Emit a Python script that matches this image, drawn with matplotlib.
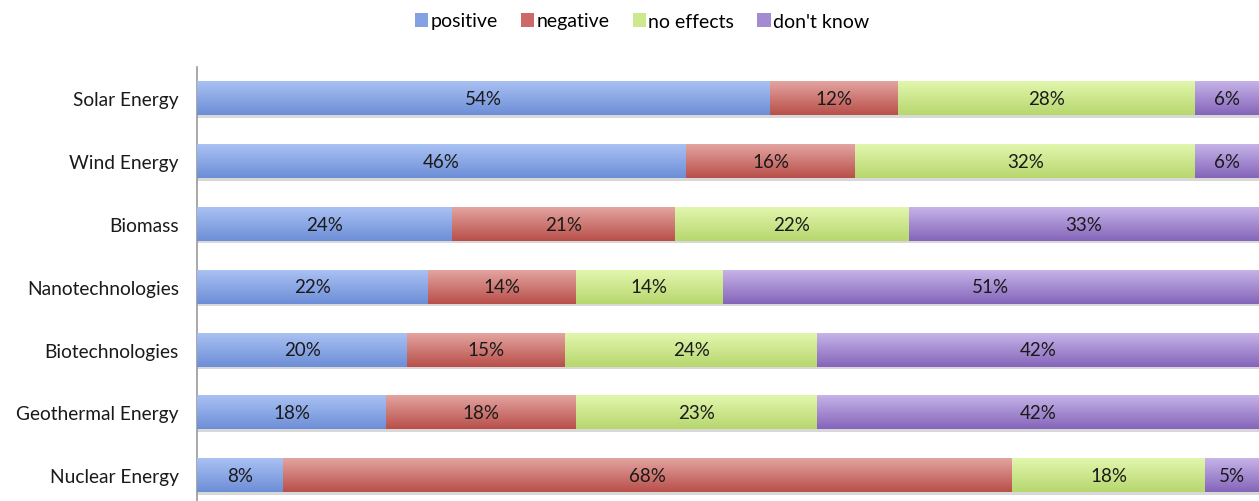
import matplotlib
matplotlib.use("Agg")
import matplotlib.pyplot as plt
import matplotlib.colors as mcolors
import numpy as np

plt.rcParams['font.family'] = ['Lato', 'DejaVu Sans']

categories = ["Solar Energy", "Wind Energy", "Biomass", "Nanotechnologies",
              "Biotechnologies", "Geothermal Energy", "Nuclear Energy"]
positive = [54, 46, 24, 22, 20, 18, 8]
negative = [12, 16, 21, 14, 15, 18, 68]
no_effects = [28, 32, 22, 14, 24, 23, 18]
dont_know = [6, 6, 33, 51, 42, 42, 5]
series_names = ["positive", "negative", "no effects", "don't know"]

series = [positive, negative, no_effects, dont_know]
base_colors = ["#84a2e3", "#cb6a66", "#cde88e", "#a28bd2"]
grad = [("#a9c1f3", "#6d8ed7"), ("#e3a4a0", "#b94f4a"),
        ("#e2f6ad", "#b7d76e"), ("#c6b3e8", "#8465ba")]

fig = plt.figure(figsize=(12.59, 5.02), dpi=100)
ax = fig.add_axes([197/1259, 0, 1 - 197/1259, (502-68)/502])

totals = np.array(series).sum(axis=0)
y = np.arange(len(categories))
left = np.zeros(len(categories))
handles = []
for vals, name, col, (ct, cb) in zip(series, series_names, base_colors, grad):
    vals = np.array(vals, dtype=float)
    widths = vals / totals * 100
    bars = ax.barh(y, widths, left=left, height=0.54, color=col, label=name,
                   edgecolor='none', zorder=2)
    cmap = mcolors.LinearSegmentedColormap.from_list("g", [ct, cb])
    for b, v in zip(bars, vals):
        x0, y0 = b.get_x(), b.get_y()
        w, h = b.get_width(), b.get_height()
        ax.add_patch(plt.Rectangle((x0, y0 + h), w, 0.04, color="#d8d8d8",
                                   zorder=1, lw=0))
        im = ax.imshow(np.linspace(0, 1, 64).reshape(-1, 1), cmap=cmap,
                       aspect='auto', extent=(x0, x0 + w, y0 + h, y0),
                       zorder=3, interpolation='bilinear')
        im.set_clip_path(b)
        ax.text(x0 + w / 2, y0 + h / 2, f"{int(v)}%", ha='center', va='center',
                fontsize=13.5, color='#1a1a1a', zorder=4)
    left += widths
    handles.append(plt.Rectangle((0, 0), 1, 1, facecolor=col))

ax.set_xlim(0, 100)
ax.set_ylim(6.41, -0.5)
ax.set_yticks(y)
ax.set_yticklabels(categories, fontsize=13.8, color='#1a1a1a')
ax.tick_params(axis='y', length=0, pad=13)
ax.set_xticks([])
for s in ['top', 'right', 'bottom']:
    ax.spines[s].set_visible(False)
ax.spines['left'].set_color('#999999')
ax.spines['left'].set_linewidth(1.2)

fig.legend(handles, series_names, loc='center', bbox_to_anchor=(642/1259, 1 - 22/502),
           ncol=4, frameon=False, fontsize=14, handlelength=0.7, handleheight=0.7,
           handletextpad=0.1, columnspacing=1.2)

fig.savefig("out.png", dpi=100)
